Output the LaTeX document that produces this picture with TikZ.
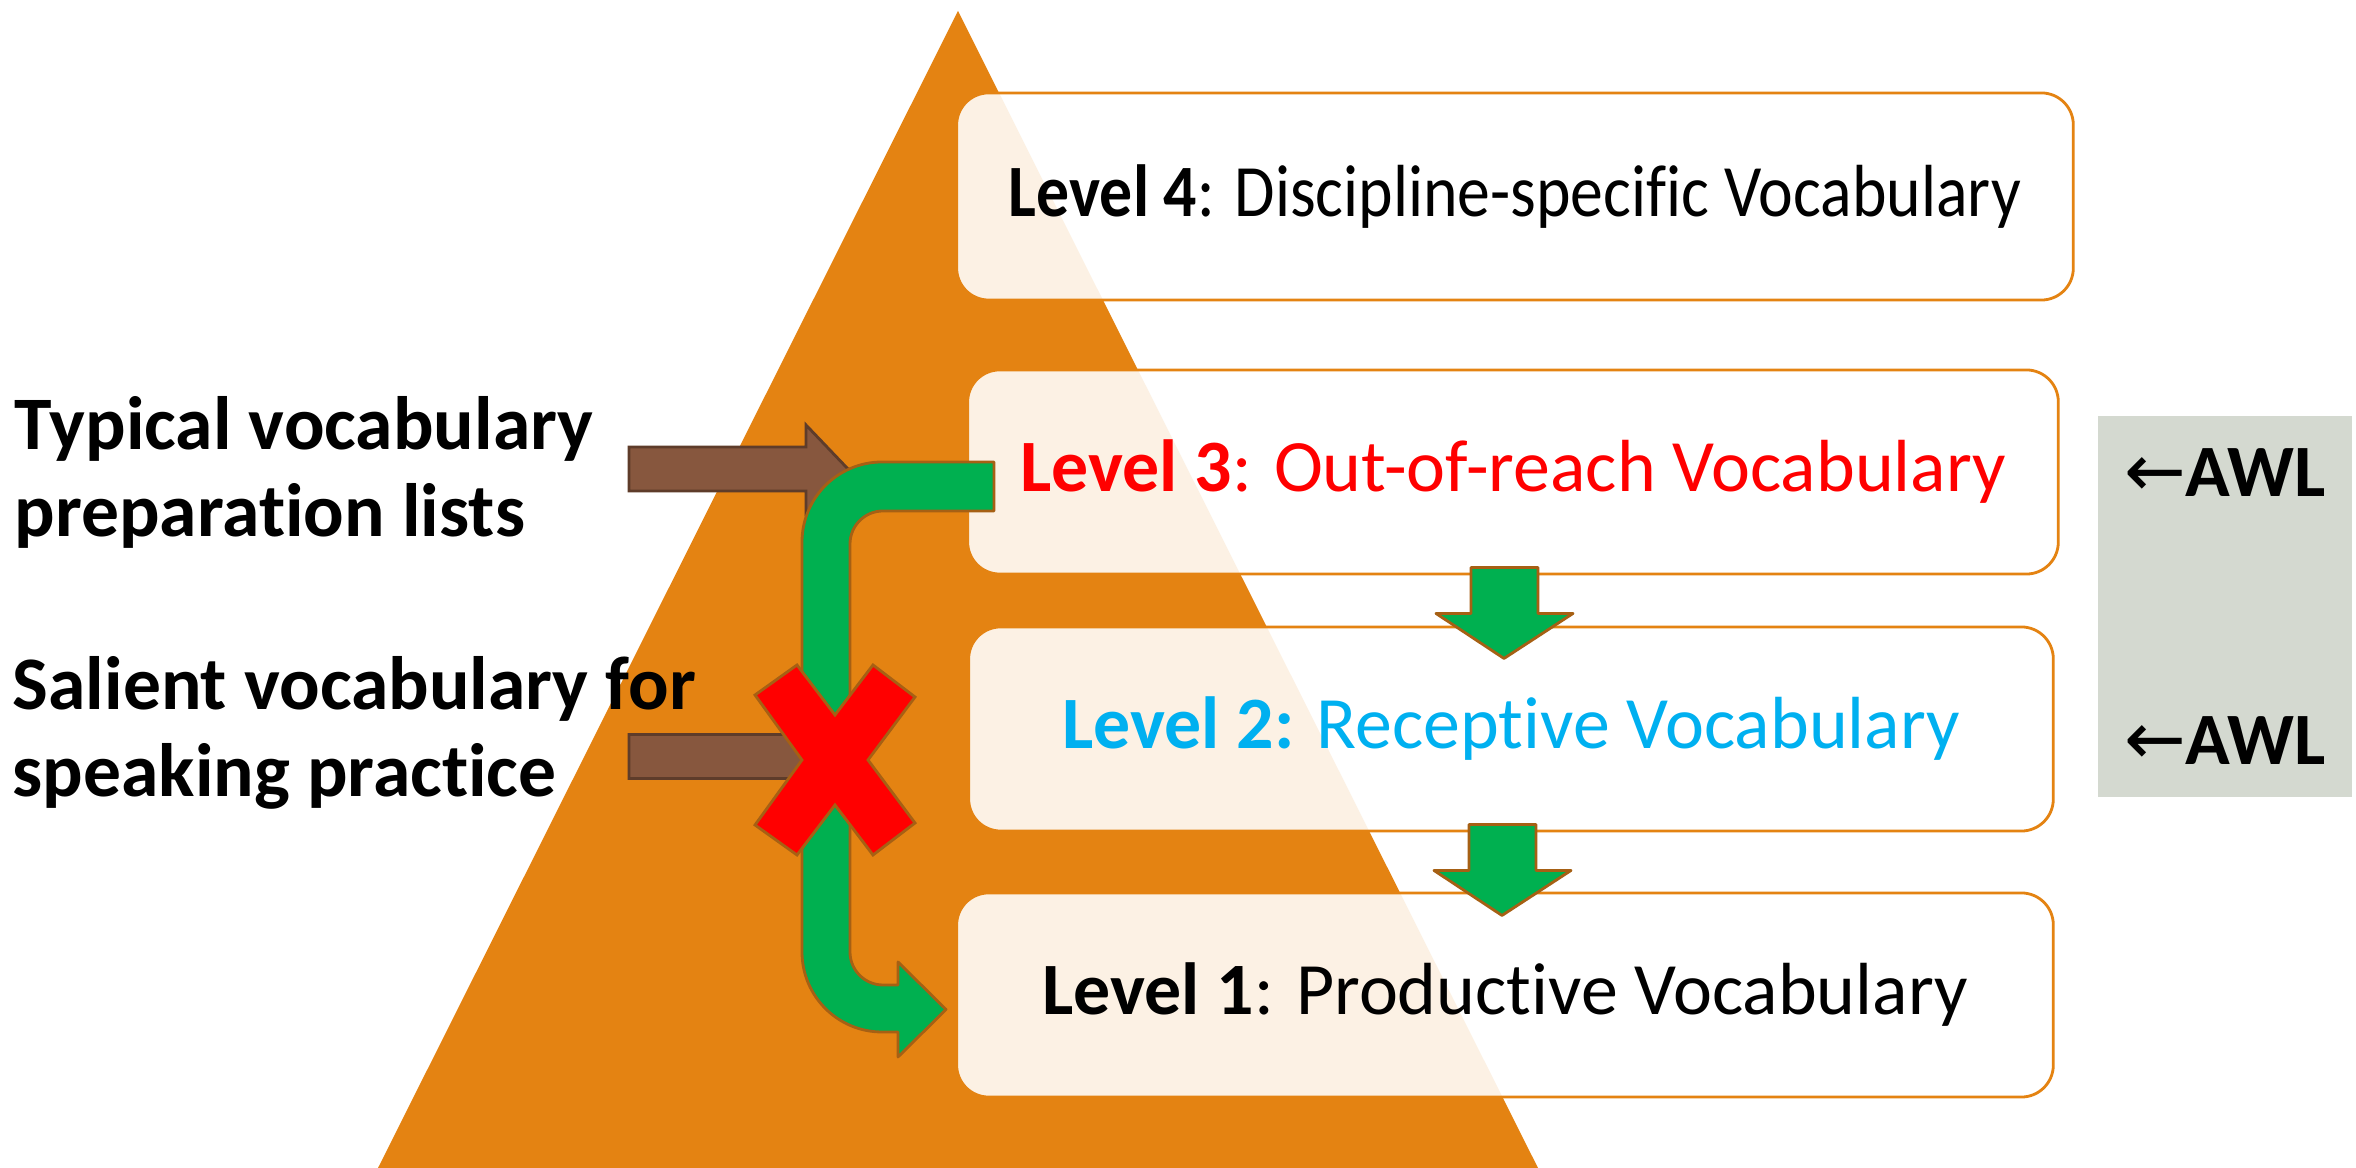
\documentclass[tikz,border=0pt]{standalone}
\usepackage{fontspec}
\usepackage{graphicx}
\setmainfont{Carlito}[Ligatures=NoCommon]
\newfontfamily\arrowfont{DejaVu Sans}
\usetikzlibrary{calc}

\definecolor{pyramid}{RGB}{228,131,18}
\definecolor{arrowgreen}{RGB}{0,176,80}
\definecolor{edgebrown}{RGB}{166,96,20}
\definecolor{shaftbrown}{RGB}{135,87,62}
\definecolor{shaftedge}{RGB}{94,60,42}
\definecolor{awlgray}{RGB}{212,217,208}
\definecolor{lvlred}{RGB}{255,0,0}
\definecolor{lvlblue}{RGB}{0,176,240}

\tikzset{
  levelbox/.style={draw=pyramid, line width=0.8pt, fill=white, fill opacity=0.89,
    text opacity=1, rounded corners=0.32cm, inner sep=0pt,
    font=\fontsize{21}{25}\selectfont},
  sidelabel/.style={align=left, inner sep=0pt, font=\fontsize{21.5}{25}\selectfont\bfseries},
  awllabel/.style={inner sep=0pt, font=\fontsize{21}{25}\selectfont\bfseries},
  blockarrow/.style={fill=arrowgreen, draw=edgebrown, line width=0.8pt, line join=round},
  shaftarrow/.style={fill=shaftbrown, draw=shaftedge, line width=0.8pt},
  crossmark/.style={fill=lvlred, draw=edgebrown, line width=0.8pt}
}

\begin{document}
\begin{tikzpicture}[x=0.01cm, y=-0.01cm]
  \fill[white] (0,0) rectangle (2356,1168);
  \useasboundingbox (0,0) rectangle (2356,1168);

  % the pyramid
  \fill[pyramid] (958,11) coordinate (apex) -- (1538,1168) -- (378,1168) -- cycle;

  % the four levels
  \node[levelbox, minimum width=11.16cm, minimum height=2.07cm] (L4) at (1515,196.5)
    {\scalebox{0.89}[1]{\textbf{Level 4}: Discipline-specific Vocabulary}};
  \node[levelbox, minimum width=10.90cm, minimum height=2.04cm, text=lvlred] (L3) at (1513,472)
    {\textbf{Level 3}: Out-of-reach Vocabulary};
  \node[levelbox, minimum width=10.84cm, minimum height=2.04cm, text=lvlblue] (L2) at (1511,729)
    {\textbf{Level 2:} Receptive Vocabulary};
  \node[levelbox, minimum width=10.96cm, minimum height=2.04cm] (L1) at (1505,995)
    {\textbf{Level 1}: Productive Vocabulary};

  % down arrows between levels
  \foreach \a/\b in {L3/L2, L2/L1}
    \draw[blockarrow] ($(\a.south)+(-42,-8)$) -- ++(67,0) -- ++(0,46) -- ++(35,0)
      -- ++(-69,45) -- ++(-68,-45) -- ++(35,0) -- cycle;

  % brown arrows from the side labels
  \foreach \y in {469,756.5}
    \draw[shaftarrow] (629,{\y-22}) -- (806,{\y-22}) -- (806,{\y-44}) -- (848,\y)
      -- (806,{\y+44}) -- (806,{\y+22}) -- (629,{\y+22}) -- cycle;

  % bent arrow from level 3 down to level 1
  \draw[blockarrow] (994,462) -- ++(-112,0) arc[start angle=270, end angle=180, radius=80]
    -- ++(0,410) arc[start angle=180, end angle=90, radius=80]
    -- ++(16,0) -- ++(0,25) -- ++(48,-47.5) -- ++(-48,-47.5) -- ++(0,23) -- ++(-15,0)
    arc[start angle=90, end angle=180, radius=33]
    -- ++(0,-408) arc[start angle=180, end angle=270, radius=33]
    -- ++(111,0) -- cycle;

  % the cross
  \draw[crossmark] (835,715) -- (873,665) -- (915,697) -- (868,760) -- (915,823)
    -- (873,855) -- (835,805) -- (797,855) -- (755,825) -- (802,760) -- (755,695)
    -- (797,665) -- cycle;

  % side labels (base anchor sits on the last line)
  \node[sidelabel, anchor=base west] (typical) at (14,537)
    {Typical vocabulary\\preparation lists};
  \node[sidelabel, anchor=base west] (salient) at (12,797)
    {Salient vocabulary for\\speaking practice};

  % AWL panel
  \fill[awlgray] (2098,416) rectangle (2352,797);
  \node[awllabel, anchor=base] (awl3) at (2225,497) {{\arrowfont\mdseries ←}AWL};
  \node[awllabel, anchor=base] (awl2) at (2225,765) {{\arrowfont\mdseries ←}AWL};
\end{tikzpicture}
\end{document}
